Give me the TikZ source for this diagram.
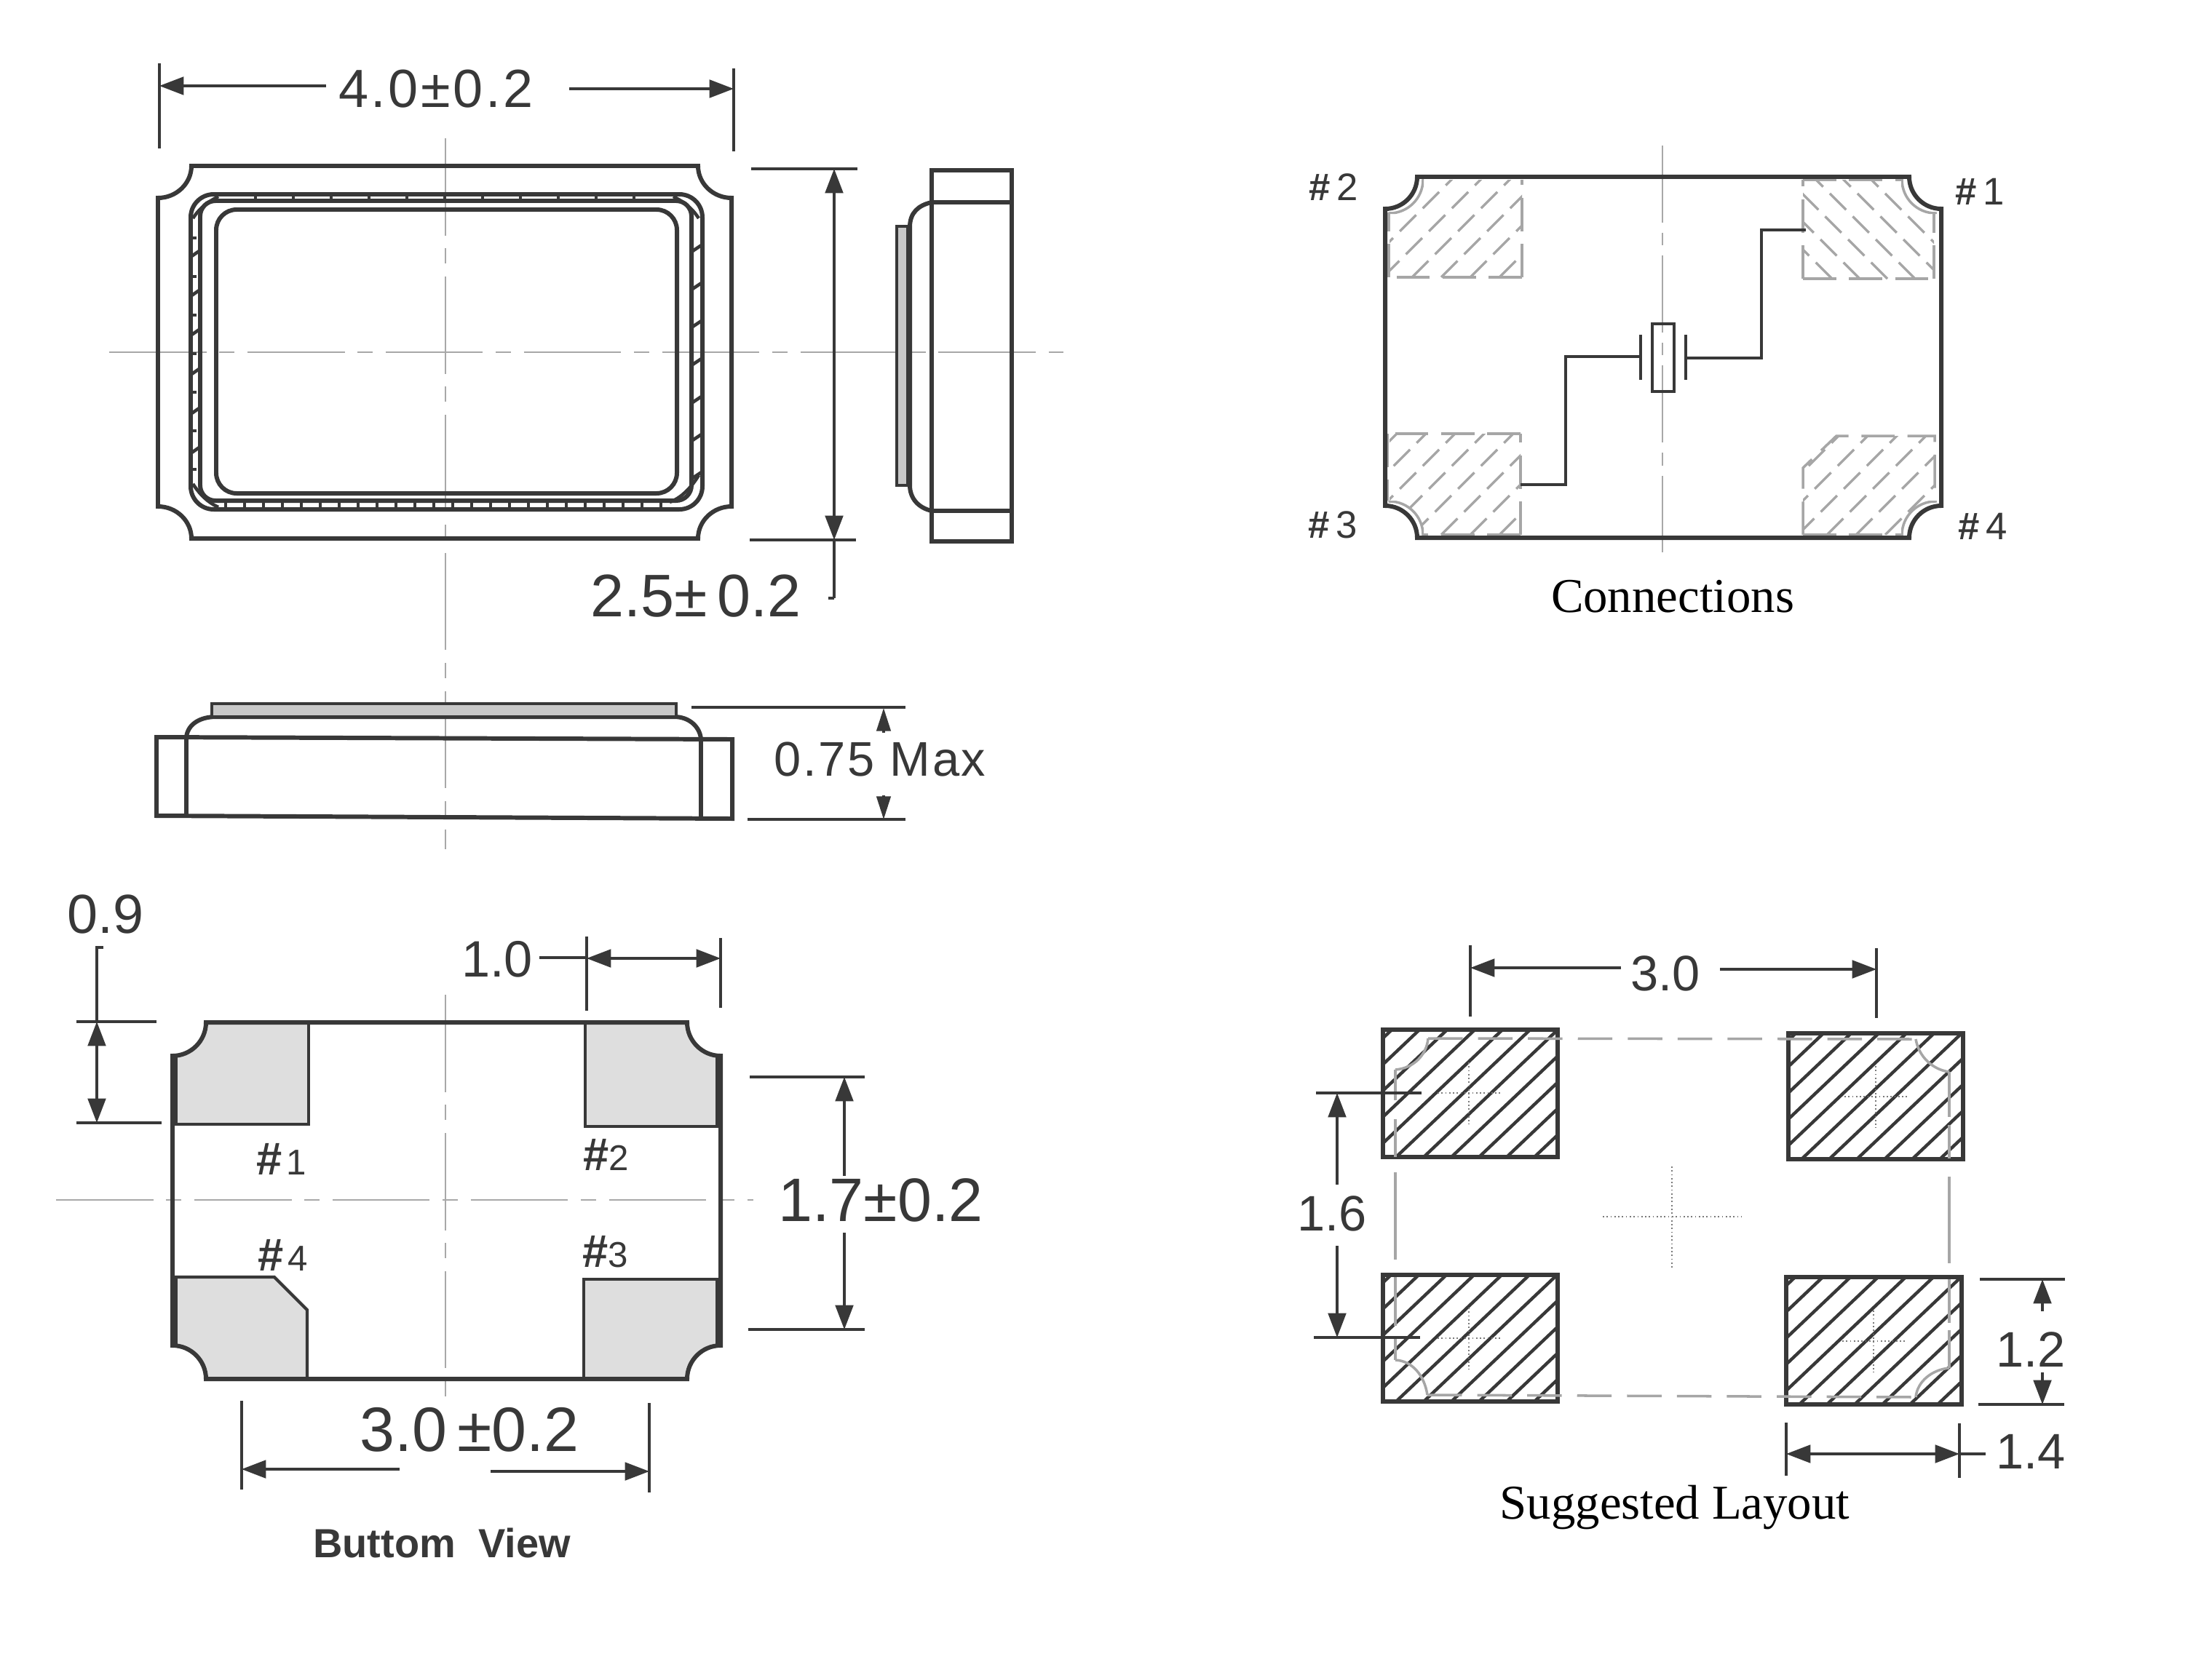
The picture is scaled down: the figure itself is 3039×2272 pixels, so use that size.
\documentclass[tikz,border=0pt]{standalone}
\usepackage{fontspec}
\setmainfont{Liberation Sans}
\newfontfamily\tnr{Liberation Serif}
\usetikzlibrary{arrows.meta}
\definecolor{ink}{HTML}{383838}
\definecolor{padgray}{HTML}{DEDEDE}
\definecolor{stripgray}{HTML}{C8C8C8}
\definecolor{dashgray}{HTML}{A6A6A6}
\definecolor{axisgray}{HTML}{A8A8A8}
\definecolor{crossgray}{HTML}{7A7A7A}
\newcommand\fs[1]{\fontsize{#1}{#1}\selectfont}
\newcommand\notchset[6]{%
  \pgfmathsetmacro\nchL{#1}\pgfmathsetmacro\nchT{#2}\pgfmathsetmacro\nchR{#3}\pgfmathsetmacro\nchB{#4}%
  \pgfmathsetmacro\nchX{#5}\pgfmathsetmacro\nchY{#6}%
  \pgfmathsetmacro\nchLi{#1+#5}\pgfmathsetmacro\nchRi{#3-#5}\pgfmathsetmacro\nchTi{#2+#6}\pgfmathsetmacro\nchBi{#4-#6}}
\newcommand\notchP{(\nchLi,\nchT) -- (\nchRi,\nchT) .. controls +(0,.55*\nchY) and +(-.55*\nchX,0) .. (\nchR,\nchTi)
  -- (\nchR,\nchBi) .. controls +(-.55*\nchX,0) and +(0,-.55*\nchY) .. (\nchRi,\nchB)
  -- (\nchLi,\nchB) .. controls +(0,-.55*\nchY) and +(.55*\nchX,0) .. (\nchL,\nchBi)
  -- (\nchL,\nchTi) .. controls +(.55*\nchX,0) and +(0,.55*\nchY) .. (\nchLi,\nchT) -- cycle}
\newcommand\layoutpad[4]{%
  \begin{scope}\clip (#1,#2) rectangle (#3,#4);
  \foreach \k in {-6,...,6} \draw[hatchline] ({#1+18+38*\k},#4) -- ++(300,-285);
  \end{scope}
  \draw[padedge] (#1,#2) rectangle (#3,#4);}
\tikzset{
  body/.style={draw=ink,line width=1.7pt,line join=miter},
  thin body/.style={draw=ink,line width=1.2pt},
  dimline/.style={draw=ink,line width=.95pt},
  dimtip/.style={dimline,-{Triangle[length=9.5pt,width=7pt]}},
  smalltip/.style={dimline,-{Triangle[length=9pt,width=5.5pt]}},
  axis/.style={draw=axisgray,line width=.4pt,dash pattern=on 38pt off 5pt on 6pt off 5pt},
  shortaxis/.style={draw=crossgray,line width=.5pt,densely dotted},
  tick/.style={draw=ink,line width=1.3pt},
  dimtext/.style={text=ink,inner sep=0pt,font=\fs{20}},
  padtext/.style={text=ink,inner sep=0pt},
  caption/.style={text=black,inner sep=0pt,font=\tnr\fs{19}},
  hatchline/.style={draw=ink,line width=1.25pt},
  padedge/.style={draw=ink,line width=1.6pt},
  grayout/.style={draw=dashgray,line width=1pt},
  grayhatch/.style={draw=dashgray,line width=.95pt,dash pattern=on 9pt off 3.7pt},
  graypad/.style={draw=dashgray,line width=1pt,dash pattern=on 13pt off 5pt},
}
\begin{document}
\begin{tikzpicture}[x=0.01cm,y=-0.01cm]
\useasboundingbox (0,0) rectangle (3039,2272);
\fill[white] (0,0) rectangle (3039,2272);

% ---------- top view ----------
\draw[axis] (150,484) -- (1461,484);
\draw[axis] (612,190) -- (612,1167);
\notchset{217}{228}{1005}{740}{46}{44}
\draw[body] \notchP;
\draw[body,rounded corners=9pt] (262,267) rectangle (965,700);
\draw[body,rounded corners=6pt] (275,276) rectangle (950,688);
\draw[body,rounded corners=8pt] (297,288) rectangle (930,678);
\foreach \x in {351,403,...,910} \draw[tick] (\x,267) -- (\x,276);
\foreach \x in {310,336,...,925} \draw[tick] (\x,688) -- (\x,700);
\foreach \y in {353,407,...,650} \draw[tick] (262,\y) -- (275,\y-9);
\foreach \y in {327,380,...,650} \draw[tick] (262,\y) -- (270,\y);
\foreach \y in {653,601,...,300} \draw[tick] (950,\y+5) -- (965,\y-5);
\draw[tick] (265,300) .. controls (275,285) and (285,278) .. (300,270);
\draw[tick] (960,300) .. controls (950,285) and (940,278) .. (925,270);
\draw[tick] (265,665) .. controls (275,680) and (285,690) .. (300,697);
\draw[tick] (960,653) .. controls (950,670) and (935,685) .. (920,690);
% 4.0 dimension
\draw[dimline] (219,87) -- (219,204);
\draw[dimline] (1008,94) -- (1008,208);
\node[dimtext,font=\fs{21}\addfontfeature{LetterSpace=5}] (w40) at (599,122) {4.0±0.2};
\draw[dimtip] (448,118) -- (219,118);
\draw[dimtip] (782,122) -- (1008,122);
% 2.5 dimension
\draw[dimline] (1032,232) -- (1178,232);
\draw[dimline] (1030,742) -- (1176,742);
\draw[dimline] (1138,822) -- (1146,822);
\draw[dimtip,{Triangle[length=9.5pt,width=7pt]}-{Triangle[length=9.5pt,width=7pt]}] (1146,232) -- (1146,742);
\draw[dimline] (1146,742) -- (1146,822);
\node[dimtext,font=\fs{23.5}] (h25) at (956,819) {2.5±\,0.2};

% ---------- side view ----------
\draw[body] (1280,234) rectangle (1390,744);
\draw[body] (1280,278) -- (1390,278);
\draw[body] (1280,702) -- (1390,702);
\draw[body] (1280,278) .. controls (1262,282) and (1250,292) .. (1250,312) -- (1250,667)
  .. controls (1250,685) and (1262,698) .. (1280,702);
\draw[thin body,fill=stripgray] (1232,311) rectangle (1247,667);

% ---------- front view ----------
\draw[body] (215,1013) -- (1006,1016) -- (1006,1125) -- (215,1121) -- cycle;
\draw[body] (256,1013) -- (256,1121);
\draw[body] (963,1016) -- (963,1125);
\draw[body] (256,1013) .. controls (258,995) and (275,985) .. (297,985) -- (926,985)
  .. controls (948,985) and (962,1000) .. (963,1016);
\draw[thin body,fill=stripgray] (291,967) rectangle (929,985);
\draw[dimline] (950,972) -- (1244,972);
\draw[dimline] (1027,1126) -- (1244,1126);
\draw[smalltip] (1214,1007) -- (1214,973);
\draw[smalltip] (1214,1093) -- (1214,1126);
\node[dimtext,font=\fs{19}\addfontfeature{LetterSpace=4}] (max75) at (1209,1043) {0.75 Max};

% ---------- connections ----------
\draw[axis,dash pattern=on 30pt off 4pt on 5pt off 4pt] (2284,200) -- (2284,768);
\notchset{1909}{247}{2659}{735}{46}{46}
\begin{scope}
\clip \notchP;
\begin{scope}
  \clip (1908,245) rectangle (2091,381);
  \foreach \k in {-4,...,5} \draw[grayhatch] ({1900+40*\k},381) -- ++(200,-200);
\end{scope}
\begin{scope}
  \clip (2477,247) rectangle (2657,383);
  \foreach \k in {-4,...,3} \draw[grayhatch] ({2593+38*\k},383) -- ++(-200,-200);
\end{scope}
\begin{scope}
  \clip (1906,596) rectangle (2089,735);
  \foreach \k in {-4,...,5} \draw[grayhatch] ({1900+40*\k},735) -- ++(200,-200);
\end{scope}
\begin{scope}
  \clip (2477,643) -- (2523,599) -- (2658,599) -- (2658,735) -- (2477,735) -- cycle;
  \foreach \k in {-4,...,5} \draw[grayhatch] ({2470+40*\k},735) -- ++(200,-200);
\end{scope}
\end{scope}
\draw[graypad] (2091,381) -- (2091,247);
\draw[graypad] (2091,381) -- (1908,381);
\draw[graypad] (1908,381) -- (1908,292);
\draw[graypad] (2477,383) -- (2477,247);
\draw[graypad] (2477,247) -- (2613,247);
\draw[graypad] (2477,383) -- (2657,383);
\draw[graypad] (2657,383) -- (2657,292);
\draw[graypad] (2089,735) -- (2089,596);
\draw[graypad] (2089,596) -- (1906,596);
\draw[graypad] (1906,596) -- (1906,688);
\draw[graypad] (2089,735) -- (1955,735);
\draw[graypad] (2477,735) -- (2477,643) -- (2523,599) -- (2658,599) -- (2658,688);
\draw[graypad] (2477,735) -- (2613,735);
\begin{scope}
  \clip (1900,240) rectangle (1956,294) (2612,240) rectangle (2670,294)
        (1900,688) rectangle (1956,745) (2612,688) rectangle (2670,745);
  \draw[grayout] \notchP;
\end{scope}
\notchset{1903}{243}{2667}{739}{44}{44}
\draw[body] \notchP;
\draw[thin body] (2481,316) -- (2420,316) -- (2420,492) -- (2316,492);
\draw[thin body] (2089,666) -- (2151,666) -- (2151,490) -- (2254,490);
\draw[thin body] (2270,445) rectangle (2300,538);
\draw[thin body] (2254,460) -- (2254,522);
\draw[thin body] (2316,460) -- (2316,522);
\node[padtext,font=\fs{15}] (c2) at (1832,257) {{\bfseries\#}\,2};
\node[padtext,font=\fs{15}] (c1) at (2720,263) {{\bfseries\#}\,1};
\node[padtext,font=\fs{15}] (c3) at (1831,721) {{\bfseries\#}\,3};
\node[padtext,font=\fs{15}] (c4) at (2724,723) {{\bfseries\#}\,4};
\node[caption] (conn) at (2298,820) {Connections};

% ---------- bottom view ----------
\draw[axis] (77,1649) -- (1035,1649);
\draw[axis] (612,1367) -- (612,1923);
\notchset{237}{1405}{990}{1895}{46}{46}
\begin{scope}
  \clip \notchP;
  \draw[thin body,fill=padgray] (230,1400) rectangle (424,1545);
  \draw[thin body,fill=padgray] (804,1400) rectangle (1000,1548);
  \draw[thin body,fill=padgray] (230,1755) -- (377,1755) -- (422,1800) -- (422,1900) -- (230,1900) -- cycle;
  \draw[thin body,fill=padgray] (802,1758) rectangle (1000,1900);
  \draw[draw=ink,line width=3pt] (239,1440) -- (239,1545) (239,1755) -- (239,1860);
  \draw[draw=ink,line width=3pt] (988,1440) -- (988,1548) (988,1758) -- (988,1860);
\end{scope}
\draw[body] \notchP;
% 0.9
\node[dimtext,font=\fs{21.5}] (d09) at (145,1256) {0.9};
\draw[dimline] (105,1404) -- (215,1404);
\draw[dimline] (105,1543) -- (222,1543);
\draw[dimline] (142,1302) -- (133,1302) -- (133,1404);
\draw[dimtip,{Triangle[length=9.5pt,width=7pt]}-{Triangle[length=9.5pt,width=7pt]}] (133,1404) -- (133,1543);
% 1.0
\node[dimtext,font=\fs{20}] (d10) at (683,1318) {1.0};
\draw[dimline] (806,1287) -- (806,1389);
\draw[dimline] (990,1289) -- (990,1385);
\draw[dimline] (741,1316) -- (806,1316);
\draw[dimtip,{Triangle[length=9.5pt,width=7pt]}-{Triangle[length=9.5pt,width=7pt]}] (806,1317) -- (990,1317);
% 1.7
\node[dimtext,font=\fs{24}] (d17) at (1210,1649) {1.7±0.2};
\draw[dimline] (1030,1480) -- (1188,1480);
\draw[dimline] (1028,1827) -- (1188,1827);
\draw[dimtip] (1160,1616) -- (1160,1480);
\draw[dimtip] (1160,1694) -- (1160,1827);
% 3.0
\node[dimtext,font=\fs{24.5}] (d30) at (645,1965) {3.0\,±0.2};
\draw[dimline] (332,1925) -- (332,2047);
\draw[dimline] (892,1928) -- (892,2051);
\draw[dimtip] (549,2019) -- (332,2019);
\draw[dimtip] (674,2022) -- (892,2022);
\node[text=ink,inner sep=0pt,font=\fs{15.9}\bfseries] (bv) at (607,2120) {Buttom\ \ View};
\node[padtext] (b1) at (387,1593) {{\fs{18}\bfseries\#}\,{\fs{14}1}};
\node[padtext] (b2) at (833,1587) {{\fs{18}\bfseries\#}{\fs{14}2}};
\node[padtext] (b4) at (389,1725) {{\fs{18}\bfseries\#}\,{\fs{14}4}};
\node[padtext] (b3) at (832,1720) {{\fs{18}\bfseries\#}{\fs{14}3}};

% ---------- suggested layout ----------
\layoutpad{1900}{1415}{2140}{1590}
\layoutpad{2457}{1420}{2697}{1593}
\layoutpad{1900}{1752}{2140}{1926}
\layoutpad{2454}{1755}{2695}{1930}
\draw[grayout,dash pattern=on 13.5pt off 6pt] (1962,1427) -- (2632,1428);
\draw[grayout,dash pattern=on 13.5pt off 6pt] (1961,1917) -- (2632,1920);
\draw[grayout] (1917,1470) .. controls (1942,1468) and (1960,1450) .. (1962,1427);
\draw[grayout] (2632,1428) .. controls (2636,1452) and (2655,1470) .. (2678,1473);
\draw[grayout] (2678,1880) .. controls (2655,1882) and (2634,1898) .. (2632,1920);
\draw[grayout] (1917,1869) .. controls (1940,1870) and (1957,1890) .. (1961,1917);
\draw[grayout] (1917,1470) -- (1917,1512) (1917,1538) -- (1917,1590) (1917,1611) -- (1917,1731)
  (1917,1755) -- (1917,1822) (1917,1839) -- (1917,1869);
\draw[grayout] (2678,1473) -- (2678,1535) (2678,1546) -- (2678,1592) (2678,1617) -- (2678,1736)
  (2678,1758) -- (2678,1818) (2678,1828) -- (2678,1880);
\foreach \cx/\cy in {2018/1502,2577/1507,2018/1839,2574/1843} {
  \draw[shortaxis] (\cx-43,\cy) -- (\cx+44,\cy);
  \draw[shortaxis] (\cx,\cy-42) -- (\cx,\cy+43);
}
\draw[shortaxis] (2202,1672) -- (2393,1672);
\draw[shortaxis] (2297,1603) -- (2297,1744);
% 3.0
\node[dimtext,font=\fs{19.5}] (l30) at (2288,1338) {3.0};
\draw[dimline] (2020,1299) -- (2020,1397);
\draw[dimline] (2578,1303) -- (2578,1399);
\draw[dimtip] (2227,1330) -- (2020,1330);
\draw[dimtip] (2363,1332) -- (2578,1332);
% 1.6
\node[dimtext,font=\fs{19.5}] (l16) at (1830,1668) {1.6};
\draw[dimline] (1808,1502) -- (1953,1502);
\draw[dimline] (1805,1838) -- (1951,1838);
\draw[dimtip] (1837,1628) -- (1837,1502);
\draw[dimtip] (1837,1712) -- (1837,1838);
% 1.2
\node[dimtext,font=\fs{19.5}] (l12) at (2790,1855) {1.2};
\draw[dimline] (2720,1758) -- (2837,1758);
\draw[dimline] (2718,1930) -- (2836,1930);
\draw[dimtip] (2806,1802) -- (2806,1758);
\draw[dimtip] (2806,1886) -- (2806,1930);
% 1.4
\node[dimtext,font=\fs{19.5}] (l14) at (2790,1995) {1.4};
\draw[dimline] (2454,1955) -- (2454,2028);
\draw[dimline] (2692,1956) -- (2692,2031);
\draw[dimtip,{Triangle[length=9.5pt,width=7pt]}-{Triangle[length=9.5pt,width=7pt]}] (2454,1998) -- (2692,1998);
\draw[dimline] (2692,1998) -- (2728,1998);
\node[caption] (sug) at (2301,2071) {Suggested Layout};
\end{tikzpicture}
\end{document}
